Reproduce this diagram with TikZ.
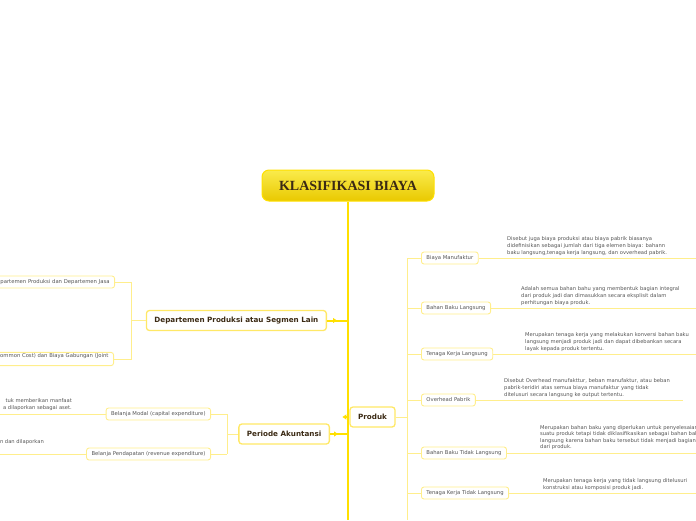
\documentclass[tikz,border=0pt]{standalone}
\usepackage{fontspec}
\setmainfont{DejaVu Sans}
\newfontfamily\titlefont{Liberation Serif}
\usepackage{tikz}
\usetikzlibrary{arrows.meta,positioning}

\definecolor{trunkyellow}{HTML}{FFE000}
\definecolor{linkyellow}{HTML}{FFEE8C}
\definecolor{rimyellow}{HTML}{FFE866}
\definecolor{titletop}{HTML}{FAEB4C}
\definecolor{titlebot}{HTML}{E9C900}
\definecolor{topictext}{HTML}{3B2A14}
\definecolor{notetext}{HTML}{555555}

\begin{document}
\begin{tikzpicture}[x=1pt, y=-1pt,
titlebox/.style={draw=trunkyellow, line width=1pt, rounded corners=7pt, top color=titletop, bottom color=titlebot, minimum width=172pt, minimum height=31pt, text=topictext, font=\titlefont\bfseries\fontsize{14}{16}\selectfont},
topic/.style={draw=rimyellow, line width=1.3pt, rounded corners=3pt, fill=white, minimum height=20pt, inner xsep=8pt, text=topictext, font=\bfseries\fontsize{7.2}{8.5}\selectfont},
item/.style={draw=linkyellow, line width=0.9pt, rounded corners=2.5pt, fill=white, minimum height=12pt, inner xsep=5pt, inner ysep=1pt, text=notetext, font=\fontsize{5.3}{6.5}\selectfont},
note/.style={inner sep=0pt, align=left, text=notetext, font=\fontsize{5.2}{7}\selectfont},
hub/.style={draw=trunkyellow, line width=2pt},
link/.style={draw=linkyellow, line width=0.9pt},
tip/.style={-{Triangle[length=4pt,width=5pt]}, trunkyellow}
]
\useasboundingbox (0,0) rectangle (696,520);
\clip (0,0) rectangle (696,520);

\coordinate (trunkend) at (348,520);
\coordinate (rbus) at (407,258);
\coordinate (rbusend) at (407,520);
\coordinate (rim) at (696,0);
\coordinate (lrim) at (0,0);
\coordinate (lbus) at (131,282);
\coordinate (lbusend) at (131,360);
\coordinate (pbus) at (227,414);
\coordinate (pbusend) at (227,454);

% central topic
\node[titlebox] (title) at (348,185.5) {KLASIFIKASI BIAYA};
\draw[hub] (title.south) -- (trunkend);

% main topics
\node[topic, minimum width=45pt, inner xsep=6pt] (produk) at (372.5,417) {Produk};
\node[topic, anchor=east] (dept) at (327,320.5) {Departemen Produksi atau Segmen Lain};
\node[topic, anchor=east] (periode) at (330,434) {Periode Akuntansi};

\draw[hub] (dept.east) -- (dept.east -| trunkend);
\draw[hub, tip] (dept.east) -- ++(10,0);
\draw[hub] (periode.east) -- (periode.east -| trunkend);
\draw[hub, tip] (periode.east) -- ++(8,0);
\draw[hub, tip] (produk.west) -- ++(-7,0);

% Produk
\draw[link] (produk.east) -- (produk.east -| rbus);
\draw[link] (rbus) -- (rbusend);

\node[item, anchor=west] (manuf) at (421,258) {Biaya Manufaktur};
\node[item, anchor=west] (bbl) at (421,308) {Bahan Baku Langsung};
\node[item, anchor=west] (tkl) at (421,354) {Tenaga Kerja Langsung};
\node[item, anchor=west] (ovh) at (421,400) {Overhead Pabrik};
\node[item, anchor=west] (bbtl) at (421,453) {Bahan Baku Tidak Langsung};
\node[item, anchor=west] (tktl) at (421,493) {Tenaga Kerja Tidak Langsung};

\draw[link] (manuf.west) -- (manuf.west -| rbus);
\draw[link] (bbl.west) -- (bbl.west -| rbus);
\draw[link] (tkl.west) -- (tkl.west -| rbus);
\draw[link] (ovh.west) -- (ovh.west -| rbus);
\draw[link] (bbtl.west) -- (bbtl.west -| rbus);
\draw[link] (tktl.west) -- (tktl.west -| rbus);

\draw[link] (manuf.east) -- (manuf.east -| rim);
\draw[link] (bbl.east) -- (bbl.east -| rim);
\draw[link] (tkl.east) -- (tkl.east -| rim);
\draw[link] (ovh.east) -- ++(207,0);
\draw[link] (bbtl.east) -- (bbtl.east -| rim);
\draw[link] (tktl.east) -- (tktl.east -| rim);

\node[note, anchor=south west] (manufnote) at (507,255.5) {Disebut juga biaya produksi atau biaya pabrik biasanya\\didefinisikan sebagai jumlah dari tiga elemen biaya: bahann\\baku langsung,tenaga kerja langsung, dan ovverhead pabrik.};
\node[note, anchor=south west] (bblnote) at (521,305.5) {Adalah semua bahan bahu yang membentuk bagian integral\\dari produk jadi dan dimasukkan secara eksplisit dalam\\perhitungan biaya produk.};
\node[note, anchor=south west] (tklnote) at (525,351.5) {Merupakan tenaga kerja yang melakukan konversi bahan baku\\langsung menjadi produk jadi dan dapat dibebankan secara\\layak kepada produk tertentu.};
\node[note, anchor=south west] (ovhnote) at (504,397.5) {Disebut Overhead manufakttur, beban manufaktur, atau beban\\pabrik-teridiri atas semua biaya manufaktur yang tidak\\ditelusuri secara langsung ke output tertentu.};
\node[note, anchor=south west, font=\fontsize{5.2}{6.5}\selectfont] (bbtlnote) at (540,450) {Merupakan bahan baku yang diperlukan untuk penyelesaian\\suatu produk tetapi tidak diklasifikasikan sebagai bahan baku\\langsung karena bahan baku tersebut tidak menjadi bagian\\dari produk.};
\node[note, anchor=south west] (tktlnote) at (543,490.5) {Merupakan tenaga kerja yang tidak langsung ditelusuri\\konstruksi atau komposisi produk jadi.};

% Departemen Produksi atau Segmen Lain
\node[item, anchor=east] (jasa) at (115,282) {Departemen Produksi dan Departemen Jasa};
\node[item, anchor=east, align=left] (joint) at (114,359) {Biaya Bersama (Common Cost) dan Biaya Gabungan (Joint\\Cost)};
\draw[link] (dept.west) -- (dept.west -| lbus);
\draw[link] (lbus) -- (lbusend);
\draw[link] (jasa.east) -- (lbus);
\draw[link] (joint.east) -- (joint.east -| lbus);

% Periode Akuntansi
\node[item, anchor=east] (modal) at (211,414) {Belanja Modal (capital expenditure)};
\node[item, anchor=east] (pendapatan) at (211,454) {Belanja Pendapatan (revenue expenditure)};
\draw[link] (periode.west) -- (periode.west -| pbus);
\draw[link] (pbus) -- (pbusend);
\draw[link] (modal.east) -- (pbus);
\draw[link] (pendapatan.east) -- (pbusend);
\draw[link] (modal.west) -- (modal.west -| lrim);
\draw[link] (pendapatan.west) -- (pendapatan.west -| lrim);
\node[note, anchor=south east, align=right] (modalnote) at (72,411) {tuk memberikan manfaat\\a dilaporkan sebagai aset.};
\node[note, anchor=south east] (pendapatannote) at (44,444.5) {n dan dilaporkan};
\end{tikzpicture}
\end{document}
